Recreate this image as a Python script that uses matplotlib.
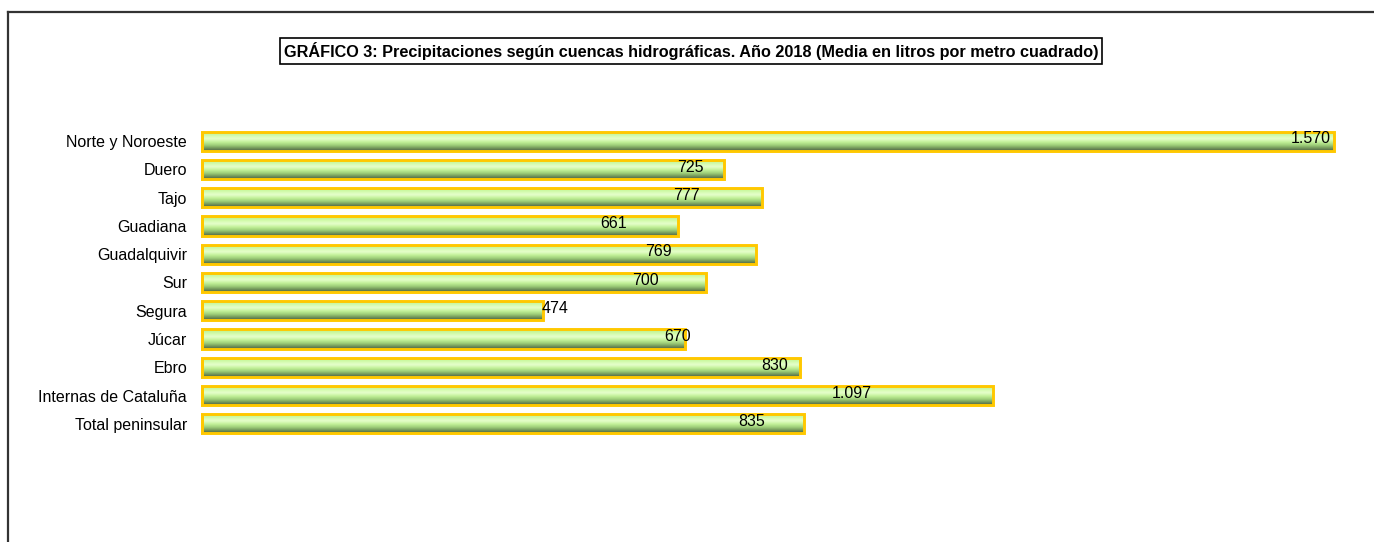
import numpy as np
import matplotlib
matplotlib.use("Agg")
import matplotlib.pyplot as plt
from matplotlib.colors import LinearSegmentedColormap
from matplotlib.patches import Rectangle
from matplotlib.lines import Line2D

plt.rcParams['font.family'] = ['Liberation Sans', 'DejaVu Sans']

# ---- data ----
categories = ["Norte y Noroeste", "Duero", "Tajo", "Guadiana", "Guadalquivir",
              "Sur", "Segura", "Júcar", "Ebro", "Internas de Cataluña",
              "Total peninsular"]
values = [1570, 725, 777, 661, 769, 700, 474, 670, 830, 1097, 835]
value_labels = ["1.570", "725", "777", "661", "769", "700", "474", "670",
                "830", "1.097", "835"]
title = "GRÁFICO 3: Precipitaciones según cuencas hidrográficas. Año 2018 (Media en litros por metro cuadrado)"

# label positions (as offsets relative to bar end, in data units) - style only
label_offsets = [-33, -47, -105, -90, -136, -85, 17, -10, -35, -195, -72]

W, H = 1374, 542
fig = plt.figure(figsize=(W / 100, H / 100), dpi=100)

ax_left = 201 / W
ax_right = 1356 / W
ax_top = 1 - 127 / H
ax_bot = 1 - 438 / H
ax = fig.add_axes([ax_left, ax_bot, ax_right - ax_left, ax_top - ax_bot])

# gradient colormap (top -> bottom)
grad_cmap = LinearSegmentedColormap.from_list(
    "bar", [(0.0, "#b4ee84"), (0.18, "#cdfaa4"), (0.38, "#e6ffcc"),
            (0.56, "#c0f096"), (0.72, "#9ccc78"), (0.86, "#74985a"),
            (1.0, "#4e6446")])
grad = np.linspace(0, 1, 64).reshape(-1, 1)

bh = 0.68
ypos = np.arange(len(categories))
bars = ax.barh(ypos, values, height=bh, color="none",
               edgecolor="#ffc800", linewidth=2.1, zorder=3)
for b in bars:
    x0, y0 = b.get_x(), b.get_y()
    w, h = b.get_width(), b.get_height()
    im = ax.imshow(grad, cmap=grad_cmap, aspect="auto",
                   extent=(x0, x0 + w, y0 + h, y0), zorder=2,
                   interpolation="bicubic")
    im.set_clip_path(b)
    # thicker left edge
    ax.add_patch(Rectangle((x0, y0), 4, h, facecolor="#ffc800",
                           edgecolor="none", zorder=3))

ax.set_xlim(0, 1600)
ax.set_ylim(len(categories) - 0.5, -0.5)

for i, (v, lab, off) in enumerate(zip(values, value_labels, label_offsets)):
    ax.text(v + off, i - 0.08, lab, ha="center", va="center",
            fontsize=11.5, color="black", zorder=5)

ax.set_yticks(ypos)
ax.set_yticklabels(categories, fontsize=11.5)
ax.tick_params(axis="y", length=0, pad=10)
ax.set_xticks([])
for s in ax.spines.values():
    s.set_visible(False)

# title with box
fig.text(691 / W, 1 - 51 / H, title, ha="center", va="center",
         fontsize=11.7, fontweight="bold",
         bbox=dict(boxstyle="square,pad=0.22", facecolor="white",
                   edgecolor="black", linewidth=1.2))

# outer frame (left and top)
fig.add_artist(Line2D([8 / W, 8 / W], [0, 1 - 12 / H], transform=fig.transFigure,
                      color="#333333", linewidth=1.6))
fig.add_artist(Line2D([8 / W, 1], [1 - 12 / H, 1 - 12 / H], transform=fig.transFigure,
                      color="#333333", linewidth=1.6))

fig.savefig("out.png", dpi=100)
